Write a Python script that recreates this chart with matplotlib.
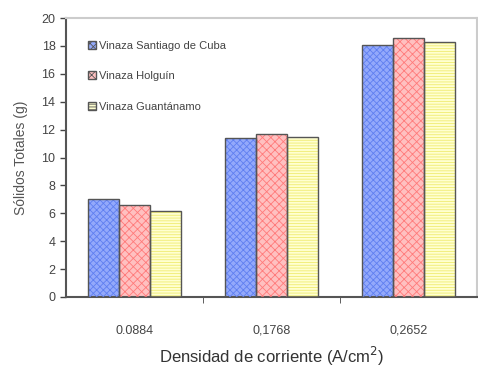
import numpy as np
import matplotlib
matplotlib.use("Agg")
import matplotlib.pyplot as plt

plt.rcParams['font.family'] = ['Liberation Sans', 'DejaVu Sans']
plt.rcParams['hatch.linewidth'] = 0.6

densidades = ["0.0884", "0,1768", "0,2652"]
santiago = [7.0, 11.4, 18.1]
holguin = [6.6, 11.7, 18.6]
guantanamo = [6.2, 11.5, 18.3]

series = [
    ("Vinaza Santiago de Cuba", santiago, "#93a9fb", "#5f7ff0", "xxxxx"),
    ("Vinaza Holguín", holguin, "#ffc0c0", "#ff7a7a", "xxxx"),
    ("Vinaza Guantánamo", guantanamo, "#ffffd0", "#f0ec70", "------"),
]

fig = plt.figure(figsize=(4.78, 3.68), dpi=100)
ax = fig.add_axes([0.138, 0.193, 0.86, 0.758])

x = np.arange(len(densidades))
w = 0.225
for i, (name, vals, fc, hc, hatch) in enumerate(series):
    pos = x + (i - 1) * w
    ax.bar(pos, vals, w, color=fc, edgecolor="none", zorder=2)
    ax.bar(pos, vals, w, color="none", edgecolor=hc, hatch=hatch, linewidth=0, zorder=3)
    ax.bar(pos, vals, w, color="none", edgecolor="#555555", linewidth=1.0, zorder=4)
    # legend handle
    ax.bar([np.nan], [np.nan], color=fc, edgecolor="#555555", hatch=hatch, label=name)

ax.set_xlim(-0.5, 2.5)
ax.set_ylim(0, 20)
ax.set_yticks(range(0, 21, 2))
ax.set_xticks(x)
ax.set_xticklabels(densidades)
ax.set_xticks([0.5, 1.5], minor=True)
ax.tick_params(axis="x", which="major", length=0, pad=20, labelsize=9, colors="#444444")
ax.tick_params(axis="x", which="minor", length=4, direction="out", color="#444444")
ax.tick_params(axis="y", length=4, width=1, labelsize=9, colors="#444444")

for s in ["left", "bottom"]:
    ax.spines[s].set_color("#555555")
    ax.spines[s].set_linewidth(1.5)
for s in ["top", "right"]:
    ax.spines[s].set_color("#cccccc")
    ax.spines[s].set_linewidth(1.5)

ax.set_ylabel("Sólidos Totales (g)", fontsize=10, color="#555555", labelpad=10)
ax.set_xlabel("Densidad de corriente (A/cm$^2$)", fontsize=12, color="#333333", labelpad=6)

leg = ax.legend(loc="upper left", bbox_to_anchor=(0.03, 0.955), frameon=False,
                fontsize=8, handlelength=0.7, handleheight=0.7, handletextpad=0.3,
                labelspacing=1.85)
for t in leg.get_texts():
    t.set_color("#444444")

fig.savefig("out.png", dpi=100)
